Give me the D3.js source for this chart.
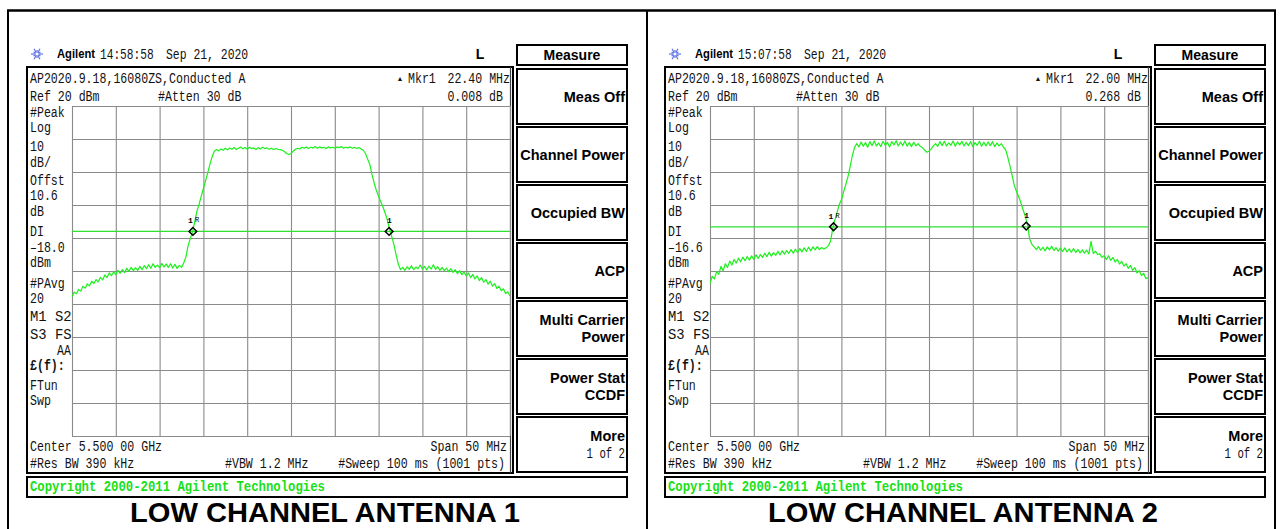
<!DOCTYPE html>
<html>
<head>
<meta charset="utf-8">
<script src="https://cdn.jsdelivr.net/npm/d3@7"></script>
<style>
  body { margin: 0; background: #fff; }
  svg { display: block; }
</style>
</head>
<body>
<svg id="chart" width="1281" height="529"></svg>
<script>
// sweep: offset from 5.500 GHz centre, one reading every 0.25 MHz, -25 .. +25 MHz
var sweepStart = -25, sweepStep = 0.25;

// antenna 1 trace, dBm
var trace1 = [
  -37.8,-36.4,-36.9,-35.6,-36.1,-34.6,-35.2,-33.9,-34.5,-33.1,
  -33.8,-32.6,-33.3,-31.9,-32.7,-31.2,-32.0,-30.6,-31.4,-30.3,
  -31.1,-29.8,-30.7,-29.6,-30.5,-29.2,-30.1,-28.9,-29.9,-29.0,
  -29.8,-28.6,-29.6,-28.4,-29.3,-28.1,-29.2,-27.8,-28.9,-28.2,
  -29.0,-27.7,-28.8,-27.9,-28.9,-27.8,-29.1,-28.0,-29.2,-28.3,
  -28.9,
  -27.6,-25.8,-22.4,-20.2,-18.3,-15.2,-12.0,-9.8,-7.4,-5.0,-2.6,-0.2,2.4,4.6,6.3,6.8,
  6.4,7.0,6.6,7.2,6.7,7.3,6.9,7.4,6.8,7.2,
  7.6,7.0,7.4,6.9,7.5,7.1,7.3,6.8,7.4,7.0,
  7.5,7.1,7.3,6.9,7.2,6.8,7.1,6.9,6.8,6.6,
  6.2,5.6,5.3,5.6,6.3,6.9,7.2,7.0,7.5,7.2,
  7.6,7.1,7.5,7.3,7.7,7.2,7.6,7.3,7.5,7.1,
  7.6,7.3,7.5,7.2,7.6,7.4,7.7,7.2,7.5,7.3,
  7.6,7.2,7.5,7.1,7.4,7.0,6.6,
  5.6,3.9,2.3,-0.9,-3.4,-5.6,-7.4,-9.0,-10.6,-12.5,-14.6,-17.4,-19.6,-22.0,-25.1,-27.9,-29.6,
  -28.9,-29.8,-28.7,-29.5,-28.4,-29.6,-28.8,-29.3,-28.2,-29.4,
  -28.6,-29.7,-28.5,-29.4,-28.1,-29.5,-28.7,-29.8,-28.9,-29.9,
  -29.1,-30.2,-29.3,-30.4,-29.6,-30.8,-29.9,-31.1,-30.3,-31.5,
  -30.6,-32.0,-31.0,-32.4,-31.5,-32.9,-32.0,-33.4,-32.6,-34.0,
  -33.1,-34.6,-33.8,-35.3,-34.6,-36.0,-35.4,-36.8,-36.3,-37.6
];

// antenna 2 trace, dBm
var trace2 = [
  -33.8,-31.6,-32.4,-30.2,-31.0,-28.6,-29.9,-27.8,-28.9,-27.0,
  -28.2,-26.5,-27.6,-26.1,-27.2,-25.8,-26.9,-25.6,-26.7,-25.4,
  -26.5,-25.1,-26.2,-25.0,-25.9,-24.6,-25.7,-24.3,-25.5,-24.4,
  -25.3,-24.0,-25.1,-23.9,-24.9,-23.8,-24.7,-23.5,-24.6,-23.4,
  -24.4,-23.2,-24.2,-23.0,-24.1,-22.8,-23.9,-22.7,-23.6,-22.6,
  -23.5,-22.9,-23.3,
  -23.0,-22.4,-21.0,-17.4,-14.6,-12.3,-9.9,-8.4,-6.1,-3.8,-1.4,1.6,5.0,7.4,
  8.6,7.6,9.1,7.8,8.9,7.5,9.2,8.0,9.4,7.9,
  8.8,7.7,9.3,8.1,9.0,7.6,9.2,8.2,9.5,7.9,
  9.1,8.0,9.4,7.8,8.9,7.7,9.0,7.9,8.6,7.8,
  7.4,6.6,6.0,6.3,7.0,7.9,8.6,7.8,9.2,8.0,
  9.3,7.9,8.8,8.1,9.4,7.8,9.1,8.2,9.3,7.9,
  9.0,8.0,9.2,7.7,8.9,8.1,9.3,7.8,9.0,7.9,
  9.1,8.0,9.2,7.7,8.8,7.9,8.6,7.5,6.8,
  4.4,1.7,-1.2,-4.2,-6.0,-7.6,-9.4,-11.5,-13.5,-16.0,-20.4,-21.9,-22.7,-23.5,
  -22.6,-23.7,-22.8,-23.9,-22.7,-23.6,-22.5,-23.8,-22.9,-24.0,
  -23.1,-24.1,-23.0,-24.2,-23.3,-24.3,-23.2,-24.4,-23.5,-24.5,
  -23.6,-24.6,-23.7,-24.8,-21.0,-24.7,-24.0,-25.0,-24.8,-25.9,
  -25.4,-26.5,-25.4,-26.8,-25.9,-27.3,-26.5,-27.9,-27.1,-28.5,
  -27.8,-29.2,-28.3,-29.8,-29.0,-30.6,-29.9,-31.4,-30.7,-32.3,
  -32.0
];

// marker positions (MHz offset) and levels
var markers1 = [-11.2, 11.2], markerLevels1 = [-18.0, -18.0];
var markers2 = [-10.9, 11.1], markerLevels2 = [-16.6, -16.4];

var displayLines = [-18.0, -16.6];
var times = ["14:58:58", "15:07:58"];
var mkrDelta = ["22.40 MHz", "22.00 MHz"];
var mkrValue = ["0.008 dB", "0.268 dB"];
var titles = ["LOW CHANNEL ANTENNA 1", "LOW CHANNEL ANTENNA 2"];

var refLevel = 20, dbPerDiv = 10, spanMHz = 50;
var softkeys = [["Meas Off"], ["Channel Power"], ["Occupied BW"], ["ACP"],
                ["Multi Carrier", "Power"], ["Power Stat", "CCDF"], ["More", "1 of 2"]];

var svg = d3.select("#chart");
var MONO = "'Liberation Mono','DejaVu Sans Mono',monospace";
var SANS = "'Liberation Sans',Arial,sans-serif";

// instrument text: tall narrow glyphs, ~6.95px per character
function mono(g, x, y, s, anchor, per) {
  return g.append("text")
    .attr("x", x).attr("y", y)
    .attr("text-anchor", anchor || "start")
    .attr("font-family", MONO)
    .attr("font-size", 14)
    .attr("textLength", s.length * (per || 6.95))
    .attr("lengthAdjust", "spacingAndGlyphs")
    .attr("fill", "#111")
    .text(s);
}

// outer table frame
svg.append("line").attr("x1", 7).attr("x2", 1276).attr("y1", 10.5).attr("y2", 10.5)
  .attr("stroke", "#000").attr("stroke-width", 2.5);
[8, 647, 1275].forEach(function(x) {
  svg.append("line").attr("x1", x).attr("x2", x).attr("y1", 10).attr("y2", 529)
    .attr("stroke", "#000").attr("stroke-width", 2);
});

function drawPanel(p) {
  var ox = p * 638;
  var trace = p == 0 ? trace1 : trace2;
  var mk = p == 0 ? markers1 : markers2;
  var mkLv = p == 0 ? markerLevels1 : markerLevels2;
  var g = svg.append("g").attr("transform", "translate(" + ox + ",0)");

  var x = d3.scaleLinear().domain([-spanMHz / 2, spanMHz / 2]).range([72, 510]);
  var y = d3.scaleLinear().domain([refLevel - 10 * dbPerDiv, refLevel]).range([436, 106]);

  // header line with logo
  var logo = g.append("g").attr("transform", "translate(37,54)");
  for (var a = 0; a < 12; a++) {
    var ang = a * Math.PI / 6;
    logo.append("line")
      .attr("x1", Math.cos(ang) * 1.5).attr("y1", Math.sin(ang) * 1.5)
      .attr("x2", Math.cos(ang) * (a % 2 ? 4 : 6)).attr("y2", Math.sin(ang) * (a % 2 ? 4 : 6))
      .attr("stroke", "#5b6fe6").attr("stroke-width", 1.2);
  }
  g.append("text").attr("x", 57).attr("y", 58).attr("font-family", SANS)
    .attr("font-weight", "bold").attr("font-size", 13)
    .attr("textLength", 38).attr("lengthAdjust", "spacingAndGlyphs").text("Agilent");
  mono(g, 100, 59, times[p], "start", 6.7);
  mono(g, 166, 59, "Sep 21, 2020", "start", 6.85);
  g.append("text").attr("x", 480).attr("y", 59).attr("text-anchor", "middle")
    .attr("font-family", SANS).attr("font-weight", "bold").attr("font-size", 14).text("L");

  // screen box
  g.append("rect").attr("x", 27).attr("y", 67).attr("width", 486).attr("height", 406)
    .attr("fill", "none").attr("stroke", "#000").attr("stroke-width", 2);
  g.append("line").attr("x1", 510.5).attr("x2", 510.5).attr("y1", 67).attr("y2", 473)
    .attr("stroke", "#444").attr("stroke-width", 1.2);

  mono(g, 30, 83, "AP2020.9.18,16080ZS,Conducted A");
  mono(g, 30, 101, "Ref 20 dBm");
  mono(g, 158, 101, "#Atten 30 dB");
  g.append("text").attr("x", 400).attr("y", 81).attr("text-anchor", "middle")
    .attr("font-size", 7).attr("fill", "#111").text("▲");
  mono(g, 408, 83, "Mkr1");
  mono(g, 510, 83, mkrDelta[p], "end");
  mono(g, 503, 101, mkrValue[p], "end");

  // left annotation column
  var dl = displayLines[p];
  var side = [["#Peak", 117], ["Log", 132], ["10", 151], ["dB/", 167], ["Offst", 185],
    ["10.6", 200], ["dB", 216], ["DI", 236], ["\u2013" + Math.abs(dl).toFixed(1), 252],
    ["dBm", 267], ["#PAvg", 288], ["20", 303], ["M1  S2", 321], ["S3  FS", 339],
    ["AA", 355], ["£(f):", 370], ["FTun", 390], ["Swp", 405]];
  side.forEach(function(d) {
    var t = mono(g, d[0] == "AA" ? 71 : 30, d[1], d[0], d[0] == "AA" ? "end" : "start");
    if (d[0].charAt(0) == "£") t.attr("font-weight", "bold");
  });

  // bottom annotations
  mono(g, 30, 451, "Center 5.500 00 GHz");
  mono(g, 30, 468, "#Res BW 390 kHz");
  mono(g, 225, 468, "#VBW 1.2 MHz");
  mono(g, 507, 451, "Span 50 MHz", "end");
  mono(g, 505, 468, "#Sweep 100 ms (1001 pts)", "end");

  // graticule from the axes
  var grid = g.append("g").attr("class", "grid");
  grid.append("g").attr("transform", "translate(0,436)")
    .call(d3.axisBottom(x).tickValues(d3.range(-25, 26, 5)).tickSize(-330).tickFormat(""));
  grid.append("g").attr("transform", "translate(72,0)")
    .call(d3.axisLeft(y).tickValues(d3.range(-80, 21, 10)).tickSize(-438).tickFormat(""));
  grid.selectAll(".domain").remove();
  grid.selectAll("line").attr("stroke", "#8a8a8a").attr("stroke-width", 1.1);

  var clipId = "clip" + p;
  g.append("clipPath").attr("id", clipId).append("rect")
    .attr("x", 72).attr("y", 106).attr("width", 438).attr("height", 330);

  // display line
  g.append("line").attr("x1", x(-25)).attr("x2", x(25)).attr("y1", y(dl)).attr("y2", y(dl))
    .attr("stroke", "#2fe02f").attr("stroke-width", 1.2);

  // trace
  var line = d3.line()
    .x(function(d, i) { return x(sweepStart + i * sweepStep); })
    .y(function(d) { return y(d); });
  g.append("path").datum(trace)
    .attr("clip-path", "url(#" + clipId + ")")
    .attr("fill", "none").attr("stroke", "#1cf01c").attr("stroke-width", 1.2)
    .attr("stroke-linejoin", "round").attr("d", line);

  // markers
  mk.forEach(function(f, i) {
    var mx = x(f), my = y(mkLv[i]);
    g.append("path").attr("d", d3.symbol(d3.symbolSquare, 30)())
      .attr("transform", "translate(" + mx + "," + my + ") rotate(45)")
      .attr("fill", "none").attr("stroke", "#000").attr("stroke-width", 1.5);
    g.append("text").attr("x", mx - (i == 0 ? 5 : 2)).attr("y", my - 8)
      .attr("font-family", MONO).attr("font-weight", "bold").attr("font-size", 8).text("1");
    if (i == 0) {
      g.append("text").attr("x", mx + 2).attr("y", my - 9)
        .attr("font-family", MONO).attr("font-size", 7).text("R");
    }
  });

  // soft key column
  g.append("rect").attr("x", 517).attr("y", 45).attr("width", 110).attr("height", 20)
    .attr("fill", "none").attr("stroke", "#000").attr("stroke-width", 2);
  g.append("text").attr("x", 572).attr("y", 60).attr("text-anchor", "middle")
    .attr("font-family", SANS).attr("font-weight", "bold").attr("font-size", 14).text("Measure");
  softkeys.forEach(function(k, i) {
    var top = 69 + i * 58;
    g.append("rect").attr("x", 517).attr("y", top).attr("width", 110).attr("height", 55)
      .attr("fill", "none").attr("stroke", "#000").attr("stroke-width", 2);
    if (k.length == 1) {
      g.append("text").attr("x", 625).attr("y", top + 33).attr("text-anchor", "end")
        .attr("font-family", SANS).attr("font-weight", "bold").attr("font-size", 14.5).text(k[0]);
    } else {
      g.append("text").attr("x", 625).attr("y", top + 24).attr("text-anchor", "end")
        .attr("font-family", SANS).attr("font-weight", "bold").attr("font-size", 14.5).text(k[0]);
      if (k[1] == "1 of 2") mono(g, 625, top + 41, k[1], "end", 6.4);
      else g.append("text").attr("x", 625).attr("y", top + 41).attr("text-anchor", "end")
        .attr("font-family", SANS).attr("font-weight", "bold").attr("font-size", 14.5).text(k[1]);
    }
  });

  // copyright bar
  g.append("rect").attr("x", 27).attr("y", 477).attr("width", 600).attr("height", 20)
    .attr("fill", "none").attr("stroke", "#000").attr("stroke-width", 2);
  g.append("text").attr("x", 30).attr("y", 491).attr("font-family", MONO)
    .attr("font-weight", "bold").attr("font-size", 14).attr("fill", "#18e018")
    .attr("textLength", 295).attr("lengthAdjust", "spacingAndGlyphs")
    .text("Copyright 2000-2011 Agilent Technologies");

  // caption
  g.append("text").attr("x", 325).attr("y", 522).attr("text-anchor", "middle")
    .attr("font-family", SANS).attr("font-weight", "bold").attr("font-size", 28)
    .attr("textLength", 390).attr("lengthAdjust", "spacingAndGlyphs")
    .text(titles[p]);
}

drawPanel(0);
drawPanel(1);
</script>
</body>
</html>
